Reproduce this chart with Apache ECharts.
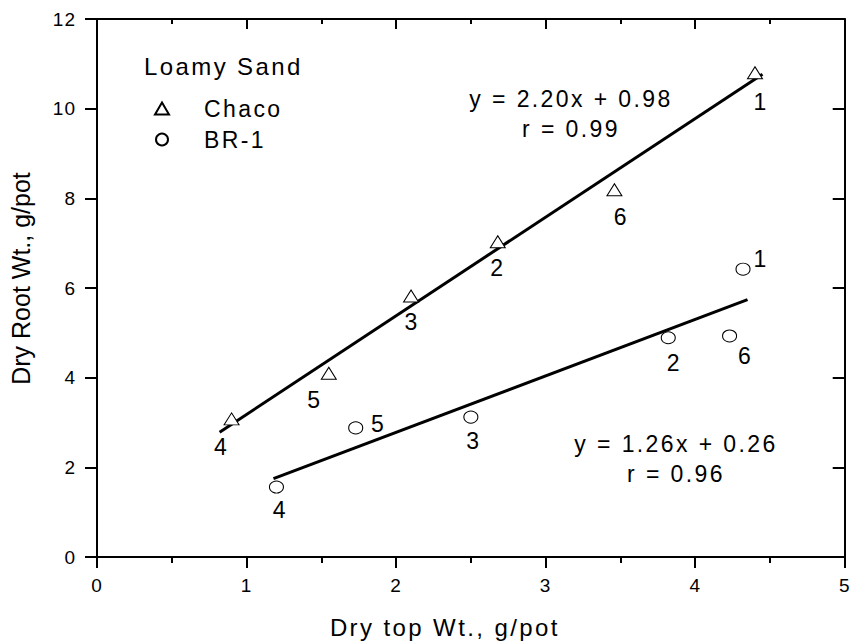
<!DOCTYPE html>
<html>
<head>
<meta charset="utf-8">
<title>Dry root vs dry top weight</title>
<script src="https://cdn.jsdelivr.net/npm/echarts@6/dist/echarts.min.js"></script>
<style>
  html, body { margin: 0; padding: 0; background: #fff; }
  #chart { width: 853px; height: 644px; }
  /* open tracking for the annotation text, tighter for tick numbers, none for the y title */
  #chart svg text { letter-spacing: 2.4px; }
  #chart svg text[style*="19px"] { letter-spacing: 1px; }
  #chart svg text[style*="25px"] { letter-spacing: 0; }
</style>
</head>
<body>
<div id="chart"></div>
<script>
// Loamy sand: dry top weight (x) vs dry root weight (y), g/pot
const chacoIds  = ['1', '2', '3', '4', '5', '6'];
const chacoTop  = [4.40, 2.68, 2.10, 0.90, 1.55, 3.46];
const chacoRoot = [10.80, 7.03, 5.82, 3.08, 4.10, 8.19];

const br1Ids  = ['1', '2', '3', '4', '5', '6'];
const br1Top  = [4.32, 3.82, 2.50, 1.20, 1.73, 4.23];
const br1Root = [6.42, 4.89, 3.12, 1.56, 2.88, 4.93];

// Least-squares fits as printed next to each line
const chacoFit = { slope: 2.20, intercept: 0.98, r: 0.99, xFrom: 0.82, xTo: 4.45 };
const br1Fit   = { slope: 1.26, intercept: 0.26, r: 0.96, xFrom: 1.18, xTo: 4.35 };

const xTicks = [0, 1, 2, 3, 4, 5];
const yTicks = [0, 2, 4, 6, 8, 10, 12];

const FONT = 'Arial, "Liberation Sans", sans-serif';

// where each point's number sits relative to its symbol (px)
const chacoLabelShift = { '1': [6, 29], '2': [0, 26], '3': [1, 26], '4': [-10, 28], '5': [-14, 27], '6': [7, 27] };
const br1LabelShift   = { '1': [18, -10], '2': [6, 25], '3': [3, 24], '4': [4, 23], '5': [23, -4], '6': [16, 20] };

function points(ids, xs, ys, shifts) {
  return ids.map((id, i) => ({
    value: [xs[i], ys[i]],
    name: id,
    label: { offset: shifts[id] }
  }));
}

function fitLine(fit) {
  return [
    [fit.xFrom, fit.slope * fit.xFrom + fit.intercept],
    [fit.xTo, fit.slope * fit.xTo + fit.intercept]
  ];
}

function eqText(fit) {
  return 'y = ' + fit.slope.toFixed(2) + 'x + ' + fit.intercept.toFixed(2) + '\n' + 'r = ' + fit.r.toFixed(2);
}

const pointLabel = {
  show: true,
  position: 'inside',
  formatter: p => p.name,
  color: '#000',
  fontFamily: FONT,
  fontSize: 23
};

const markerStyle = { color: '#fff', borderColor: '#000', borderWidth: 1, opacity: 1 };

const chart = echarts.init(document.getElementById('chart'), null, { renderer: 'svg' });

const axisLine = { show: true, onZero: false, lineStyle: { color: '#000', width: 2 } };

chart.setOption({
  animation: false,
  backgroundColor: '#fff',
  grid: { left: 96.5, right: 5, top: 19, bottom: 87, containLabel: false },
  legend: {
    data: ['Chaco', 'BR-1'],
    orient: 'vertical',
    left: 149,
    top: 92,
    itemWidth: 14,
    itemHeight: 12,
    itemGap: 8,
    textStyle: { fontFamily: FONT, fontSize: 23, color: '#000', padding: [0, 0, 0, 30] }
  },
  xAxis: [
    {
      type: 'value', position: 'bottom', min: xTicks[0], max: xTicks[xTicks.length - 1], interval: 1,
      name: 'Dry top Wt., g/pot', nameLocation: 'middle', nameGap: 58,
      nameTextStyle: { fontFamily: FONT, fontSize: 24, color: '#000', padding: [0, 52, 0, 0] },
      axisLine: axisLine,
      axisTick: { show: true, inside: false, length: 11, lineStyle: { color: '#000', width: 2 } },
      minorTick: { show: true, splitNumber: 2, length: 6, lineStyle: { color: '#000', width: 2 } },
      axisLabel: { fontFamily: FONT, fontSize: 19, color: '#000', margin: 19 },
      splitLine: { show: false }
    },
    {
      type: 'value', position: 'top', min: xTicks[0], max: xTicks[xTicks.length - 1], interval: 1,
      axisLine: axisLine,
      axisTick: { show: true, inside: true, length: 10, lineStyle: { color: '#000', width: 2 } },
      minorTick: { show: true, splitNumber: 2, length: 5, lineStyle: { color: '#000', width: 2 } },
      axisLabel: { show: false },
      splitLine: { show: false }
    }
  ],
  yAxis: [
    {
      type: 'value', position: 'left', min: yTicks[0], max: yTicks[yTicks.length - 1], interval: 2,
      name: 'Dry Root Wt., g/pot', nameLocation: 'middle', nameGap: 64, nameRotate: 90,
      nameTextStyle: { fontFamily: FONT, fontSize: 25, color: '#000', padding: [0, 0, 0, 19] },
      axisLine: axisLine,
      axisTick: { show: true, inside: false, length: 12, lineStyle: { color: '#000', width: 2 } },
      axisLabel: { fontFamily: FONT, fontSize: 19, color: '#000', margin: 21 },
      splitLine: { show: false }
    },
    {
      type: 'value', position: 'right', min: yTicks[0], max: yTicks[yTicks.length - 1], interval: 2,
      axisLine: axisLine,
      axisTick: { show: true, inside: true, length: 12, lineStyle: { color: '#000', width: 2 } },
      axisLabel: { show: false },
      splitLine: { show: false }
    }
  ],
  series: [
    {
      name: 'Chaco fit', type: 'line', data: fitLine(chacoFit), symbol: 'none',
      lineStyle: { color: '#000', width: 3 }, silent: true, z: 2
    },
    {
      name: 'BR-1 fit', type: 'line', data: fitLine(br1Fit), symbol: 'none',
      lineStyle: { color: '#000', width: 3 }, silent: true, z: 2
    },
    {
      name: 'Chaco', type: 'scatter', symbol: 'triangle', symbolSize: [15, 12],
      itemStyle: markerStyle, label: pointLabel,
      data: points(chacoIds, chacoTop, chacoRoot, chacoLabelShift), z: 3
    },
    {
      name: 'BR-1', type: 'scatter', symbol: 'circle', symbolSize: [14, 12],
      itemStyle: markerStyle, label: pointLabel,
      data: points(br1Ids, br1Top, br1Root, br1LabelShift), z: 3
    }
  ],
  graphic: [
    {
      type: 'text', left: 144, top: 54,
      style: { text: 'Loamy Sand', font: '24px ' + FONT, fill: '#000' }
    },
    {
      type: 'text', x: 571, y: 84,
      style: { text: eqText(chacoFit), font: '23px ' + FONT, fill: '#000', align: 'center', lineHeight: 30 }
    },
    {
      type: 'text', x: 676, y: 429,
      style: { text: eqText(br1Fit), font: '23px ' + FONT, fill: '#000', align: 'center', lineHeight: 30 }
    }
  ]
});
</script>
</body>
</html>
